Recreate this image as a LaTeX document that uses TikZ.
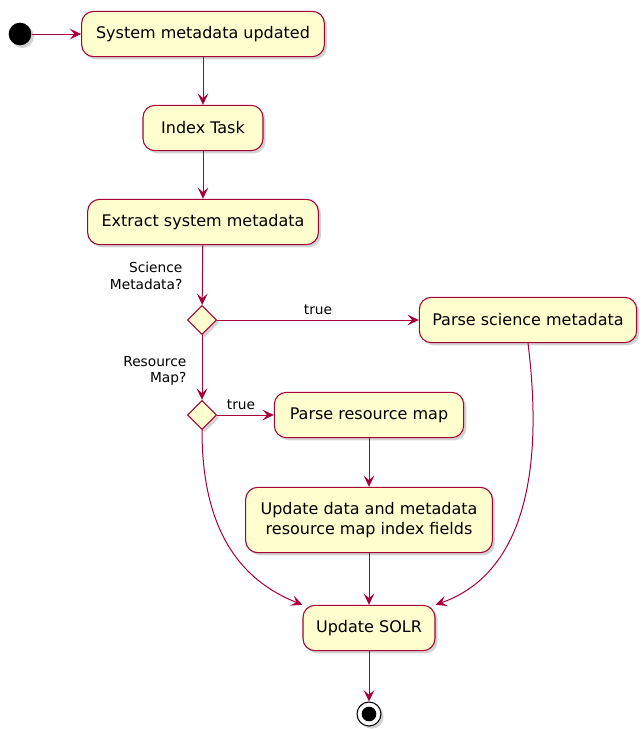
\documentclass[tikz,border=0pt]{standalone}
\usepackage{fontspec}
\setmainfont{DejaVu Sans}
\usetikzlibrary{arrows.meta, shadows, shapes.geometric}

\begin{document}
\begin{tikzpicture}[x=0.75pt, y=-0.75pt]
      \tikzstyle{activity}=[rectangle, draw=umlred, fill=umlfill, line width=0.8pt, rounded corners=9pt, inner sep=0pt, minimum height=34pt, align=center, font=\fontsize{12}{15}\selectfont, drop shadow={opacity=0.35, shadow xshift=2pt, shadow yshift=-2pt}]
      \tikzstyle{decision}=[diamond, draw=umlred, fill=umlfill, line width=0.8pt, inner sep=0pt, minimum width=22pt, minimum height=22pt, drop shadow={opacity=0.35, shadow xshift=2pt, shadow yshift=-2pt}]
      \tikzstyle{flow}=[draw=umlred, line width=0.75pt, -{Stealth[length=8.5pt, width=8pt, inset=3.5pt]}]
      \tikzstyle{guard}=[font=\fontsize{10.3}{12.5}\selectfont, align=right]
      \definecolor{umlred}{HTML}{A80036}
      \definecolor{umlfill}{HTML}{FEFECE}
      \useasboundingbox (0,0) rectangle (642,729);
      \node[circle, fill=black, minimum size=17pt, inner sep=0pt, drop shadow={opacity=0.35, shadow xshift=2pt, shadow yshift=-2pt}] (start) at (20,34) {};
      \node[activity, minimum width=182pt] (updated) at (203,34) {System metadata updated};
      \node[activity, minimum width=90pt] (index) at (203,128) {Index Task};
      \node[activity, minimum width=173pt] (extract) at (203,222) {Extract system metadata};
      \node[decision] (scidec) at (202,320) {};
      \node[guard, anchor=east] (scilabel) at (187,276) {Science\\Metadata?};
      \node[guard, anchor=east] (reslabel) at (191,371) {Resource\\Map?};
      \node[activity, minimum width=163pt] (parsesci) at (528,320) {Parse science metadata};
      \node[decision] (resdec) at (202,415) {};
      \node[activity, minimum width=142pt] (parseres) at (369,415) {Parse resource map};
      \node[activity, minimum width=185pt, minimum height=49pt] (fields) at (369,520) {Update data and metadata\\resource map index fields};
      \node[activity, minimum width=99pt] (solr) at (369,628) {Update SOLR};
      \node[circle, draw=black, fill=white, line width=0.8pt, minimum size=18pt, inner sep=0pt, drop shadow={opacity=0.35, shadow xshift=2pt, shadow yshift=-2pt}] (stop) at (369,714) {};
      \node[circle, fill=black, minimum size=11pt, inner sep=0pt] (stopdot) at (stop) {};

      \draw[flow] (start) -- (updated);
      \draw[flow] (updated) -- (index);
      \draw[flow] (index) -- (extract);
      \draw[flow] (extract) -- (scidec);
      \draw[flow] (scidec) -- node[above, font=\fontsize{10.3}{12.5}\selectfont] {true} (parsesci);
      \draw[flow] (scidec) -- (resdec);
      \draw[flow] (resdec) -- node[above, pos=0.42, font=\fontsize{10.3}{12.5}\selectfont] {true} (parseres);
      \draw[flow] (parseres) -- (fields);
      \draw[flow] (fields) -- (solr);
      \draw[flow] (resdec.south) .. controls (202,530) and (240,580) .. (solr.north west);
      \draw[flow] (parsesci.south) .. controls (545,480) and (520,575) .. (solr.north east);
      \draw[flow] (solr) -- (stop);
\end{tikzpicture}
\end{document}
